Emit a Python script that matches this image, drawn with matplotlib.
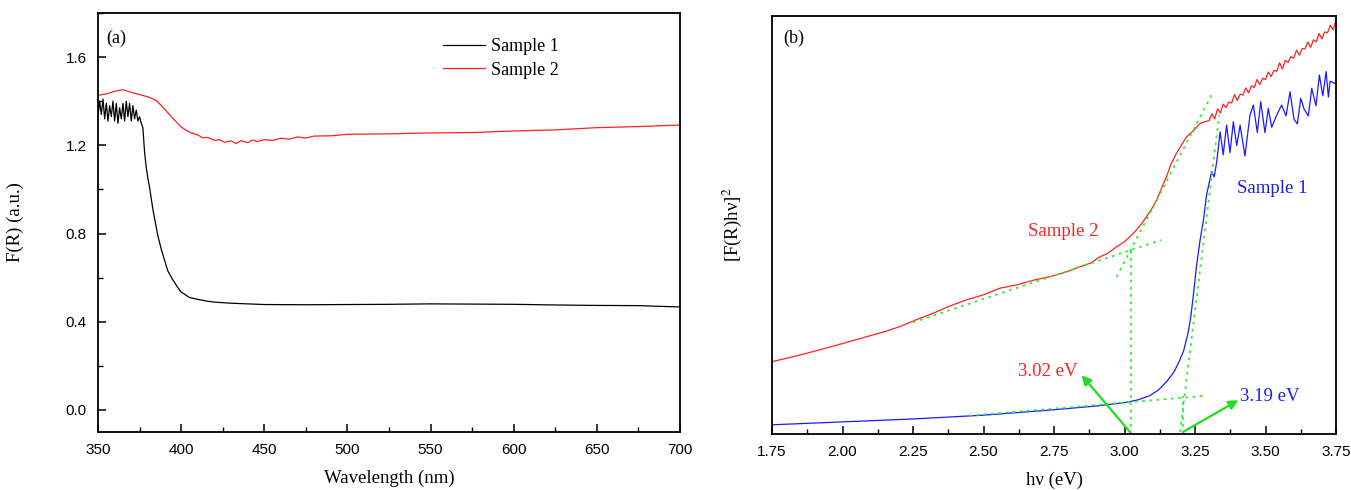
import matplotlib
matplotlib.use('Agg')
import matplotlib.pyplot as plt
from matplotlib.ticker import MultipleLocator, NullLocator

plt.rcParams['font.family'] = ['Liberation Serif', 'DejaVu Serif']
plt.rcParams['mathtext.fontset'] = 'stix'

# ---------------- Panel (a) data ----------------
wl_s1 = [350, 351, 352, 353, 354, 355, 356, 357, 358, 359, 360, 361, 362, 363,
         364, 365, 366, 367, 368, 369, 370, 371, 372, 373, 374, 375, 376, 377,
         378, 379, 380, 381, 382, 383, 384, 386, 388, 390, 392, 395, 398, 400,
         405, 409, 415, 420, 430, 450, 475, 500, 525, 550, 575, 600, 625, 650,
         675, 700]
fr_s1 = [1.33, 1.40, 1.34, 1.41, 1.32, 1.39, 1.31, 1.38, 1.33, 1.40, 1.31, 1.39,
         1.30, 1.37, 1.32, 1.39, 1.31, 1.40, 1.33, 1.39, 1.31, 1.38, 1.32, 1.36,
         1.31, 1.33, 1.30, 1.28,
         1.17, 1.10, 1.05, 1.01, 0.96, 0.91, 0.87, 0.79, 0.73, 0.68, 0.63, 0.59,
         0.555, 0.535, 0.51, 0.503, 0.494, 0.489, 0.484, 0.478, 0.477, 0.478,
         0.479, 0.481, 0.480, 0.479, 0.476, 0.474, 0.473, 0.467]

wl_s2 = [350, 355, 360, 365, 370, 375, 380, 385, 390, 395, 400, 403, 406, 410,
         413, 416, 420, 423, 426, 430, 433, 436, 440, 443, 446, 450, 455, 460,
         465, 470, 475, 480, 490, 500, 525, 550, 575, 600, 625, 650, 675, 700]
fr_s2 = [1.427, 1.433, 1.445, 1.452, 1.440, 1.430, 1.420, 1.404, 1.365, 1.322,
         1.283, 1.268, 1.257, 1.247, 1.234, 1.236, 1.222, 1.226, 1.214, 1.220,
         1.208, 1.221, 1.212, 1.224, 1.217, 1.226, 1.222, 1.232, 1.228, 1.238,
         1.233, 1.242, 1.243, 1.250, 1.252, 1.256, 1.258, 1.265, 1.270, 1.280,
         1.285, 1.292]

# ---------------- Panel (b) data ----------------
ev_s2 = [1.75, 1.85, 1.95, 2.05, 2.15, 2.204, 2.26, 2.322, 2.38, 2.44, 2.50,
         2.559, 2.62, 2.677, 2.74, 2.795, 2.842, 2.88, 2.913, 2.94, 2.972, 3.00,
         3.031, 3.055, 3.078, 3.096, 3.114, 3.13, 3.149, 3.165, 3.184, 3.20,
         3.22, 3.245, 3.268, 3.29, 3.30, 3.31, 3.32, 3.33, 3.34, 3.35, 3.36,
         3.37, 3.38, 3.39, 3.40, 3.41, 3.42, 3.43, 3.44, 3.45, 3.46, 3.47,
         3.48, 3.49, 3.50, 3.51, 3.52, 3.53, 3.54, 3.55, 3.56, 3.57, 3.58,
         3.59, 3.60, 3.61, 3.62, 3.63, 3.64, 3.65, 3.66, 3.67, 3.68, 3.69,
         3.70, 3.71, 3.72, 3.73, 3.74, 3.75]
tauc_s2 = [17.3, 18.9, 20.7, 22.6, 24.5, 25.7, 27.3, 28.9, 30.6, 32.1, 33.3,
           34.9, 35.7, 36.8, 37.7, 38.8, 40.0, 40.9, 42.4, 43.2, 44.8, 46.0,
           48.0, 49.8, 52.0, 53.8, 56.0, 58.6, 61.6, 64.6, 67.1, 68.9,
           71.1, 72.6, 74.3, 74.8, 75.0, 76.6, 75.4, 77.8, 76.8, 78.9, 78.1,
           79.4, 79.2, 81.2, 79.8, 81.3, 81.1, 82.8, 81.6, 83.3, 82.9, 84.8,
           83.6, 85.1, 84.8, 86.6, 85.5, 87.0, 86.8, 88.8, 87.3, 89.4, 88.9,
           90.3, 89.9, 91.8, 90.6, 92.2, 92.1, 93.8, 92.5, 94.3, 93.8, 95.8,
           94.5, 96.2, 96.0, 97.8, 96.7, 99.0]

ev_s1 = [1.75, 2.0, 2.25, 2.5, 2.75, 2.9, 3.0, 3.05, 3.09, 3.12, 3.15, 3.175,
         3.195, 3.21, 3.225, 3.235, 3.245, 3.255, 3.268, 3.28, 3.291, 3.30,
         3.309, 3.318, 3.327, 3.339, 3.350, 3.362, 3.374, 3.386, 3.398, 3.410,
         3.427, 3.445, 3.457, 3.471, 3.483, 3.498, 3.510, 3.522, 3.540, 3.557,
         3.573, 3.587, 3.601, 3.613, 3.625, 3.637, 3.652, 3.664, 3.679, 3.691,
         3.703, 3.715, 3.723, 3.729, 3.745]
tauc_s1 = [2.2, 2.9, 3.6, 4.5, 5.8, 6.7, 7.5, 8.2, 9.2, 10.5, 12.6, 14.8,
           17.5, 20.0, 24.0, 28.0, 33.7, 40.0, 46.4, 51.2, 57.2, 60.0,
           62.8, 61.5, 65.1, 72.3, 66.8, 73.9, 67.3, 74.7, 69.0, 73.9,
           66.5, 76.3, 78.7, 72.1, 79.5, 72.1, 77.9, 73.4, 76.3, 78.7,
           76.1, 81.9, 75.3, 74.2, 80.3, 77.7, 76.1, 82.7, 78.5, 85.9,
           80.9, 86.7, 80.6, 84.4, 83.9]

# tangent (fit) lines and band-gap markers
fit2_low_x, fit2_low_y = [2.25, 3.13], [26.7, 46.4]
fit2_steep_x, fit2_steep_y = [2.972, 3.315], [37.6, 81.9]
gap2_x, gap2_y = [3.022, 3.022], [0.0, 45.0]
fit1_low_x, fit1_low_y = [2.45, 3.28], [4.4, 9.1]
fit1_steep_x, fit1_steep_y = [3.197, 3.336], [0.5, 76.3]
gap1_x, gap1_y = [3.207, 3.207], [0.0, 9.0]

arrow2_from, arrow2_to = (3.019, 0.5), (2.848, 14.1)
arrow1_from, arrow1_to = (3.208, 0.5), (3.404, 8.1)

W, H = 1351, 490
fig = plt.figure(figsize=(W / 100, H / 100), dpi=100)

# ----- panel (a) -----
ax1 = fig.add_axes([98 / W, 1 - 432 / H, (680 - 98) / W, (432 - 13) / H])
ax1.plot(wl_s1, fr_s1, color='black', lw=0.9, label='Sample 1')
ax1.plot(wl_s2, fr_s2, color='#ff2020', lw=0.9, label='Sample 2')
ax1.set_xlim(350, 700)
ax1.set_ylim(-0.1, 1.8)
ax1.xaxis.set_major_locator(MultipleLocator(50))
ax1.xaxis.set_minor_locator(MultipleLocator(25))
ax1.yaxis.set_major_locator(MultipleLocator(0.4))
ax1.yaxis.set_minor_locator(MultipleLocator(0.2))
ax1.set_yticks([0.0, 0.4, 0.8, 1.2, 1.6])
ax1.set_yticklabels(['0.0', '0.4', '0.8', '1.2', '1.6'])
ax1.set_xlabel('Wavelength (nm)', fontsize=13.5)
ax1.set_ylabel('F(R) (a.u.)', fontsize=13.5)
ax1.xaxis.set_label_coords(0.5, -0.09)
ax1.yaxis.set_label_coords(-0.128, 0.5)
ax1.text(0.015, 0.94, '(a)', transform=ax1.transAxes, fontsize=13,
         ha='left', va='center')
leg = ax1.legend(loc='upper left', bbox_to_anchor=(0.565, 0.978), frameon=False,
                 fontsize=13, handlelength=2.3, handletextpad=0.35,
                 labelspacing=0.35)

# ----- panel (b) -----
ax2 = fig.add_axes([772 / W, 1 - 434 / H, (1336 - 772) / W, (434 - 16) / H])
ax2.plot(ev_s2, tauc_s2, color='#ff2020', lw=0.9)
ax2.plot(ev_s1, tauc_s1, color='#1a1aff', lw=0.9)
green = '#33ee33'
dot = (0, (1.5, 2.5))
for xs, ys in [(fit2_low_x, fit2_low_y), (fit2_steep_x, fit2_steep_y),
               (gap2_x, gap2_y), (fit1_low_x, fit1_low_y),
               (fit1_steep_x, fit1_steep_y), (gap1_x, gap1_y)]:
    ax2.plot(xs, ys, color=green, lw=1.3, ls=dot)
for a_from, a_to in [(arrow2_from, arrow2_to), (arrow1_from, arrow1_to)]:
    ax2.annotate('', xy=a_to, xytext=a_from,
                 arrowprops=dict(arrowstyle='-|>', color='#22dd22', lw=1.6,
                                 mutation_scale=14, shrinkA=0, shrinkB=0))
ax2.text(2.835, 15.0, '3.02 eV', color='#ff2020', fontsize=13.5,
         ha='right', va='center')
ax2.text(3.41, 8.9, '3.19 eV', color='#1a1aff', fontsize=13.5,
         ha='left', va='center')
ax2.text(2.782, 48.4, 'Sample 2', color='#ff2020', fontsize=13.5,
         ha='center', va='center')
ax2.text(3.523, 58.8, 'Sample 1', color='#1a1aff', fontsize=13.5,
         ha='center', va='center')
ax2.text(0.02, 0.947, '(b)', transform=ax2.transAxes, fontsize=13,
         ha='left', va='center')
ax2.set_xlim(1.75, 3.75)
ax2.set_ylim(0, 100)
ax2.xaxis.set_major_locator(MultipleLocator(0.25))
ax2.xaxis.set_minor_locator(MultipleLocator(0.125))
ax2.yaxis.set_major_locator(NullLocator())
ax2.yaxis.set_minor_locator(NullLocator())
ax2.set_xlabel('hν (eV)', fontsize=13.5)
ax2.set_ylabel('[F(R)hν]$^2$', fontsize=13.5)
ax2.xaxis.set_label_coords(0.5, -0.09)
ax2.yaxis.set_label_coords(-0.05, 0.5)

for ax in (ax1, ax2):
    for sp in ax.spines.values():
        sp.set_linewidth(1.3)
    ax.tick_params(which='major', direction='in', length=6, width=1.1,
                   top=False, right=False, pad=8)
    ax.tick_params(which='minor', direction='in', length=3.5, width=1.0,
                   top=False, right=False)
    for lab in ax.get_xticklabels() + ax.get_yticklabels():
        lab.set_fontfamily('Liberation Sans')
        lab.set_fontsize(11)

fig.savefig('out.png', dpi=100)
